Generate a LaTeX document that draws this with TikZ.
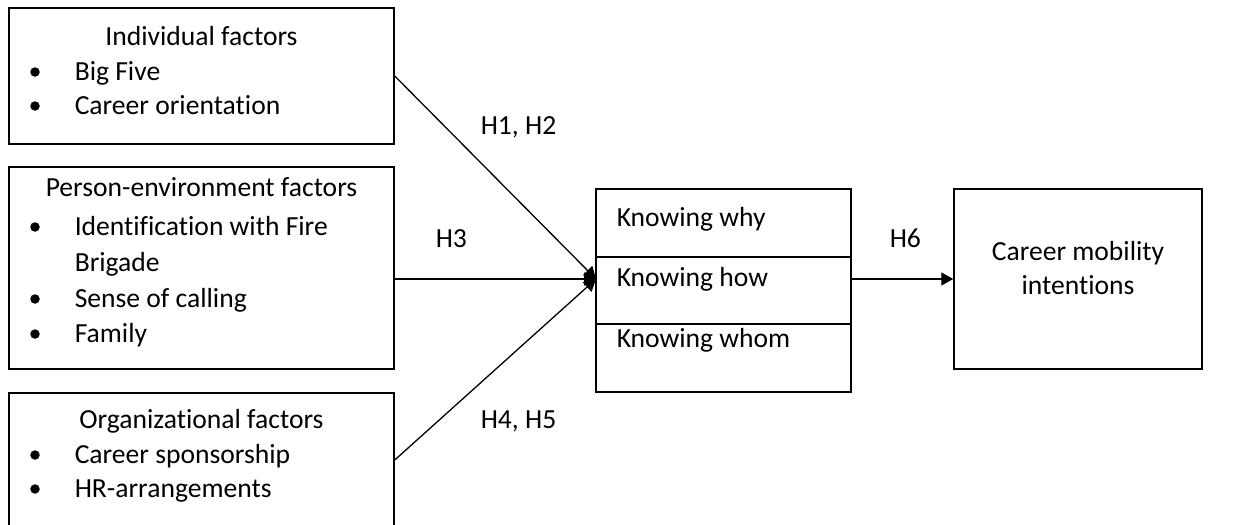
\documentclass[tikz,border=0pt]{standalone}
\usepackage{fontspec}
\setmainfont{Carlito}[Ligatures=NoCommon]
\usetikzlibrary{arrows.meta}

\begin{document}
\begin{tikzpicture}[x=1pt,y=-1pt,line width=1.5pt,
    font=\fontsize{27.6}{34}\selectfont,
    txt/.style={inner sep=0pt,anchor=base west},
    ctxt/.style={inner sep=0pt,anchor=base},
    dot/.style={circle,fill,inner sep=0pt,minimum size=9.5pt},
    link/.style={line width=1.3pt,-{Triangle[length=12pt,width=13pt]}}]
                    \useasboundingbox (0,0) rectangle (1251,525);
                    % Individual factors
                    \draw (201.5,76) node[rectangle,minimum width=385,minimum height=136,draw] (ind) {};
                    \node[ctxt] (indT) at (201.5,45) {Individual factors};
                    \node[dot] (indB1) at (35,72) {};
                    \node[txt] (ind1) at (74,80) {Big Five};
                    \node[dot] (indB2) at (35,106) {};
                    \node[txt] (ind2) at (74,114) {Career orientation};
                    % Person-environment factors
                    \draw (201.5,268) node[rectangle,minimum width=385,minimum height=202,draw] (pe) {};
                    \node[ctxt] (peT) at (201.5,196) {Person-environment factors};
                    \node[dot] (peB1) at (35,227) {};
                    \node[txt] (pe1) at (74,235) {Identification with Fire};
                    \node[txt] (pe1b) at (74,271) {Brigade};
                    \node[dot] (peB2) at (35,299) {};
                    \node[txt] (pe2) at (74,307) {Sense of calling};
                    \node[dot] (peB3) at (35,334) {};
                    \node[txt] (pe3) at (74,342) {Family};
                    % Organizational factors
                    \draw (201.5,460) node[rectangle,minimum width=385,minimum height=134,draw] (org) {};
                    \node[ctxt] (orgT) at (201.5,428) {Organizational factors};
                    \node[dot] (orgB1) at (35,455) {};
                    \node[txt] (org1) at (74,463) {Career sponsorship};
                    \node[dot] (orgB2) at (35,489) {};
                    \node[txt] (org2) at (74,497) {HR-arrangements};
                    % Career capital
                    \draw (723.5,223) node[rectangle,minimum width=255,minimum height=68,draw] (why) {};
                    \draw (723.5,290.5) node[rectangle,minimum width=255,minimum height=67,draw] (how) {};
                    \draw (723.5,358) node[rectangle,minimum width=255,minimum height=68,draw] (whom) {};
                    \node[txt] (whyT) at (616,226) {Knowing why};
                    \node[txt] (howT) at (616,286) {Knowing how};
                    \node[txt] (whomT) at (616,347) {Knowing whom};
                    % Outcome
                    \draw (1078,279) node[rectangle,minimum width=248,minimum height=180,draw] (mob) {};
                    \node[ctxt] (mobT1) at (1078,260) {Career mobility};
                    \node[ctxt] (mobT2) at (1078,294) {intentions};
                    \coordinate (kin) at (596,279);
                    % Links
                    \draw [link] (ind.east)--(kin);
                    \draw [link] (pe.east |- kin)--(kin);
                    \draw [link] (org.east)--(kin);
                    \draw [link] (how.east |- mob.west)--(mob.west);
                    % Labels
                    \node[txt] (h12) at (480,134) {H1, H2};
                    \node[txt] (h3) at (435,247) {H3};
                    \node[txt] (h45) at (480,428) {H4, H5};
                    \node[txt] (h6) at (889,247) {H6};
                \end{tikzpicture}
\end{document}
